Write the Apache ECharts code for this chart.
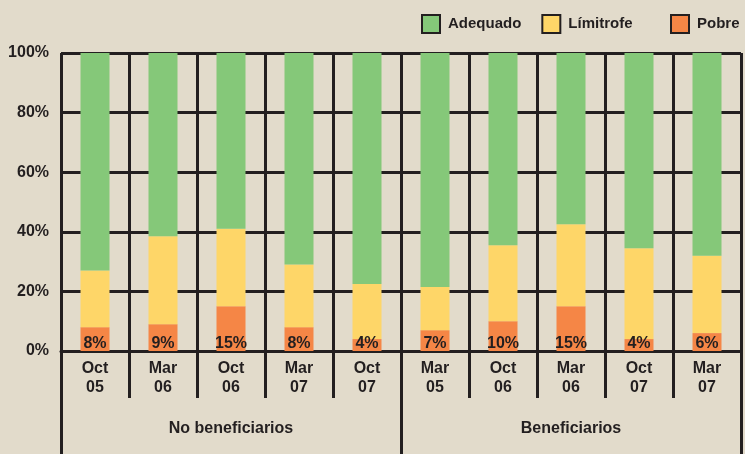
<!DOCTYPE html>
<html>
<head>
<meta charset="utf-8">
<script src="https://cdn.jsdelivr.net/npm/echarts@6/dist/echarts.min.js"></script>
<style>
  html, body { margin: 0; padding: 0; background: #e2dbcb; }
  #chart { width: 745px; height: 454px; }
</style>
</head>
<body>
<div id="chart"></div>
<script>
// periods and groups
const periods = ['Oct\n05', 'Mar\n06', 'Oct\n06', 'Mar\n07', 'Oct\n07', 'Mar\n05', 'Oct\n06', 'Mar\n06', 'Oct\n07', 'Mar\n07'];
const groups = ['No beneficiarios', 'Beneficiarios'];
const yTicks = [0, 20, 40, 60, 80, 100];

// shares in %
const pobre = [8, 9, 15, 8, 4, 7, 10, 15, 4, 6];
const limitrofe = [19, 29.5, 26, 21, 18.5, 14.5, 25.5, 27.5, 30.5, 26];
const adequado = [73, 61.5, 59, 71, 77.5, 78.5, 64.5, 57.5, 65.5, 68];

const ink = '#231f20';
const font = '"Liberation Sans", Arial, sans-serif';

const legendText = { color: ink, fontWeight: 'bold', fontSize: 15, fontFamily: font, padding: [0, 0, 0, 3] };

const chart = echarts.init(document.getElementById('chart'));
const option = {
  backgroundColor: '#e2dbcb',
  animation: false,
  textStyle: { fontFamily: font },
  legend: [
    {
      data: ['Adequado', 'Límitrofe'],
      left: 416, top: 9,
      itemWidth: 18, itemHeight: 18, itemGap: 20,
      icon: 'rect',
      itemStyle: { borderColor: ink, borderWidth: 2 },
      textStyle: legendText
    },
    {
      data: ['Pobre'],
      left: 665, top: 9,
      itemWidth: 18, itemHeight: 18,
      icon: 'rect',
      itemStyle: { borderColor: ink, borderWidth: 2 },
      textStyle: legendText
    }
  ],
  grid: { left: 61, right: 4, top: 53, bottom: 103 },
  xAxis: [
    {
      type: 'category',
      data: periods,
      axisLine: { lineStyle: { color: ink, width: 3 } },
      axisTick: { show: true, length: 47, lineStyle: { color: ink, width: 3 } },
      splitLine: { show: true, lineStyle: { color: ink, width: 3 } },
      axisLabel: { color: ink, fontWeight: 'bold', fontSize: 16, lineHeight: 19, margin: 8, fontFamily: font }
    },
    {
      type: 'category',
      data: groups,
      position: 'bottom',
      axisLine: { show: false },
      axisTick: { show: true, length: 103, lineStyle: { color: ink, width: 3 } },
      axisLabel: { color: ink, fontWeight: 'bold', fontSize: 16, margin: 70, fontFamily: font }
    }
  ],
  yAxis: {
    type: 'value',
    min: yTicks[0],
    max: yTicks[yTicks.length - 1],
    interval: 20,
    axisLine: { show: false },
    axisTick: { show: false },
    splitLine: { lineStyle: { color: ink, width: 3 } },
    axisLabel: { formatter: '{value}%', color: ink, fontWeight: 'bold', fontSize: 16, margin: 12, fontFamily: font }
  },
  series: [
    {
      name: 'Pobre', type: 'bar', stack: 'total', barWidth: 29,
      itemStyle: { color: '#f58646' },
      label: {
        show: true, position: 'insideBottom', distance: -1,
        formatter: '{c}%', color: ink, fontWeight: 'bold', fontSize: 16, fontFamily: font
      },
      data: pobre
    },
    {
      name: 'Límitrofe', type: 'bar', stack: 'total', barWidth: 29,
      itemStyle: { color: '#fed668' },
      data: limitrofe
    },
    {
      name: 'Adequado', type: 'bar', stack: 'total', barWidth: 29,
      itemStyle: { color: '#85c879' },
      data: adequado
    }
  ]
};
chart.setOption(option);
</script>
</body>
</html>
